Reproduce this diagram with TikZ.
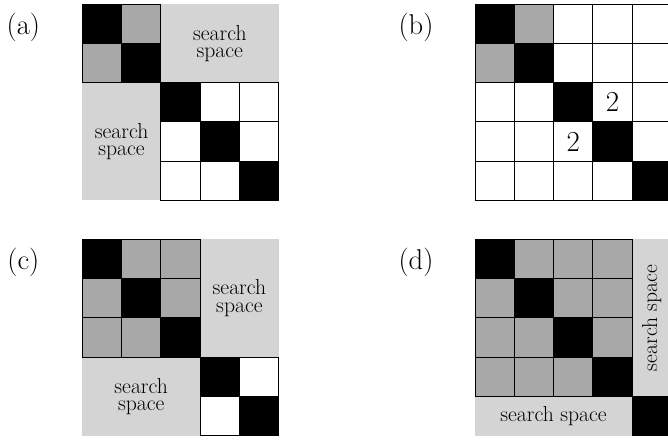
\documentclass[tikz,border=0pt]{standalone}
\usepackage{fontspec}
\definecolor{darkcell}{gray}{0.66}
\definecolor{searchgray}{gray}{0.83}

\begin{document}
\begin{tikzpicture}[
	cell/.style={draw=black,line width=0.6pt},
	search/.style={fill=searchgray},
	panel/.style={font=\fontsize{20.7}{24}\selectfont},
	sstext/.style={font=\fontsize{15.7}{12.6}\selectfont,align=center,inner sep=0pt},
	twotext/.style={font=\fontsize{21}{24}\selectfont,inner sep=0pt}
]
\useasboundingbox (0,0) rectangle (17.0,-11.22);

% (a)
\begin{scope}[shift={(2.094,-0.102)}]
\node [panel] (la) at (-1.5,-0.6) {(a)};
\fill [search] (2,0) rectangle (5,-2);
\fill [search] (0,-2) rectangle (2,-5);
\foreach \x / \y / \c in {0/0/black, 1/0/darkcell, 0/1/darkcell, 1/1/black,
						2/2/black, 3/2/white, 4/2/white,
						2/3/white, 3/3/black, 4/3/white,
						2/4/white, 3/4/white, 4/4/black}
	{\draw [cell,fill=\c] (\x,-\y) rectangle ++(1,-1);}
\node [sstext] (sa1) at (3.5,-1) {search\\space};
\node [sstext] (sa2) at (1,-3.5) {search\\space};
\end{scope}

% (b)
\begin{scope}[shift={(12.087,-0.102)}]
\node [panel] (lb) at (-1.5,-0.6) {(b)};
\foreach \x in {0,...,4}
	\foreach \y in {0,...,4}
		{\draw [cell,fill=white] (\x,-\y) rectangle ++(1,-1);}
\foreach \x / \y in {1/0, 0/1}
	{\draw [cell,fill=darkcell] (\x,-\y) rectangle ++(1,-1);}
\foreach \x in {0,...,4}
	{\draw [cell,fill=black] (\x,-\x) rectangle ++(1,-1);}
\node [twotext] (b1) at (3.5,-2.5) {2};
\node [twotext] (b2) at (2.5,-3.5) {2};
\end{scope}

% (c)
\begin{scope}[shift={(2.094,-6.089)}]
\node [panel] (lc) at (-1.5,-0.6) {(c)};
\fill [search] (3,0) rectangle (5,-3);
\fill [search] (0,-3) rectangle (3,-5);
\foreach \x in {0,...,2}
	\foreach \y in {0,...,2}
		{\draw [cell,fill=darkcell] (\x,-\y) rectangle ++(1,-1);}
\foreach \x / \y / \c in {0/0/black, 1/1/black, 2/2/black,
						3/3/black, 4/3/white, 3/4/white, 4/4/black}
	{\draw [cell,fill=\c] (\x,-\y) rectangle ++(1,-1);}
\node [sstext] (sc1) at (4,-1.5) {search\\space};
\node [sstext] (sc2) at (1.5,-4) {search\\space};
\end{scope}

% (d)
\begin{scope}[shift={(12.087,-6.089)}]
\node [panel] (ld) at (-1.5,-0.6) {(d)};
\fill [search] (4,0) rectangle (5,-4);
\fill [search] (0,-4) rectangle (4,-5);
\foreach \x in {0,...,3}
	\foreach \y in {0,...,3}
		{\draw [cell,fill=darkcell] (\x,-\y) rectangle ++(1,-1);}
\foreach \x in {0,...,4}
	{\draw [cell,fill=black] (\x,-\x) rectangle ++(1,-1);}
\node [sstext,rotate=90] (sd1) at (4.5,-2) {search space};
\node [sstext] (sd2) at (2,-4.5) {search space};
\end{scope}

\end{tikzpicture}
\end{document}
